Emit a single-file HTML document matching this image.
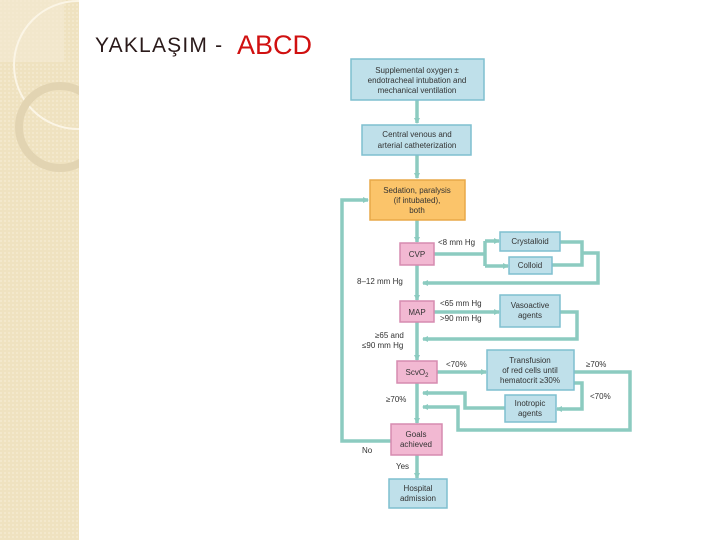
<!DOCTYPE html>
<html><head><meta charset="utf-8"><style>
body{margin:0;width:720px;height:540px;overflow:hidden;background:#fff;font-family:"Liberation Sans",sans-serif}
</style></head><body>
<svg width="720" height="540" viewBox="0 0 720 540" xmlns="http://www.w3.org/2000/svg" style="position:absolute;left:0;top:0">
<defs>
<pattern id="p" width="4" height="4" patternUnits="userSpaceOnUse"><rect width="4" height="4" fill="#efe2c0"/><rect width="2" height="2" fill="#f3e8cc"/></pattern>
<marker id="a" markerWidth="6" markerHeight="6" refX="5" refY="3" orient="auto" markerUnits="userSpaceOnUse"><path d="M0,0 L6,3 L0,6z" fill="#8ccbc0"/></marker>
<clipPath id="c"><rect x="0" y="0" width="79" height="540"/></clipPath>
</defs>
<rect x="0" y="0" width="79" height="540" fill="url(#p)"/>
<g clip-path="url(#c)">
<rect x="0" y="0" width="64" height="62" fill="#f4ead2" opacity="0.7"/>
<circle cx="78" cy="65" r="64" fill="none" stroke="#fbf5e6" stroke-width="2"/>
<circle cx="60" cy="127" r="41" fill="none" stroke="#e2d4b2" stroke-width="8"/>
</g>
<text x="95" y="52" font-size="21" fill="#2a1a1a" letter-spacing="1.2">YAKLAŞIM -</text>
<text x="237" y="54" font-size="27" fill="#d01010">ABCD</text>
<g stroke="#8ccbc0" stroke-width="3.5" fill="none">
<line x1="417" y1="100" x2="417" y2="123" marker-end="url(#a)"/>
<line x1="417" y1="155" x2="417" y2="178" marker-end="url(#a)"/>
<line x1="417" y1="220" x2="417" y2="242" marker-end="url(#a)"/>
<line x1="417" y1="265" x2="417" y2="300" marker-end="url(#a)"/>
<line x1="417" y1="322" x2="417" y2="360" marker-end="url(#a)"/>
<line x1="417" y1="383" x2="417" y2="423" marker-end="url(#a)"/>
<line x1="417" y1="455" x2="417" y2="478" marker-end="url(#a)"/>
<polyline points="391,441 342,441 342,200 368,200" marker-end="url(#a)"/>
<polyline points="434,254 485,254"/>
<polyline points="485,241 485,266"/>
<line x1="485" y1="241" x2="499" y2="241" marker-end="url(#a)"/>
<line x1="485" y1="266" x2="508" y2="266" marker-end="url(#a)"/>
<polyline points="560,242 582,242 582,265 552,265"/>
<polyline points="582,253 598,253 598,283 423,283" marker-end="url(#a)"/>
<line x1="434" y1="312" x2="499" y2="312" marker-end="url(#a)"/>
<polyline points="560,312 577,312 577,339 423,339" marker-end="url(#a)"/>
<line x1="437" y1="372" x2="486" y2="372" marker-end="url(#a)"/>
<polyline points="574,372 630,372 630,430 458,430 458,407 423,407" marker-end="url(#a)"/>
<polyline points="574,383 582,383 582,409 557,409" marker-end="url(#a)"/>
<polyline points="505,408 465,408 465,393 423,393" marker-end="url(#a)"/>
</g>
<g stroke="#7fbfcf" stroke-width="1.5" fill="#bfe0ea">
<rect x="351" y="59" width="133" height="41"/>
<rect x="362" y="125" width="109" height="30"/>
<rect x="500" y="232" width="60" height="19"/>
<rect x="509" y="257" width="43" height="17"/>
<rect x="500" y="295" width="60" height="32"/>
<rect x="487" y="350" width="87" height="40"/>
<rect x="505" y="395" width="51" height="27"/>
<rect x="389" y="479" width="58" height="29"/>
</g>
<rect x="370" y="180" width="95" height="40" fill="#fbc46a" stroke="#e8a848" stroke-width="1.5"/>
<g fill="#f2b8d2" stroke="#d68bb0" stroke-width="1.5">
<rect x="400" y="243" width="34" height="22"/>
<rect x="400" y="301" width="34" height="21"/>
<rect x="397" y="361" width="40" height="22"/>
<rect x="391" y="424" width="51" height="31"/>
</g>
<g font-size="8" fill="#333" text-anchor="middle">
<text x="417" y="73">Supplemental oxygen ±</text>
<text x="417" y="83">endotracheal intubation and</text>
<text x="417" y="93">mechanical ventilation</text>
<text x="417" y="137">Central venous and</text>
<text x="417" y="148">arterial catheterization</text>
<text x="417" y="193">Sedation, paralysis</text>
<text x="417" y="203">(if intubated),</text>
<text x="417" y="213">both</text>
<text x="417" y="257">CVP</text>
<text x="530" y="244">Crystalloid</text>
<text x="530" y="268">Colloid</text>
<text x="417" y="315">MAP</text>
<text x="530" y="308">Vasoactive</text>
<text x="530" y="318">agents</text>
<text x="417" y="375">ScvO<tspan font-size="6" dy="2">2</tspan></text>
<text x="530" y="363">Transfusion</text>
<text x="530" y="373">of red cells until</text>
<text x="530" y="383">hematocrit ≥30%</text>
<text x="530" y="406">Inotropic</text>
<text x="530" y="416">agents</text>
<text x="416" y="437">Goals</text>
<text x="416" y="447">achieved</text>
<text x="418" y="491">Hospital</text>
<text x="418" y="501">admission</text>
</g>
<g font-size="8" fill="#333">
<text x="438" y="245">&lt;8 mm Hg</text>
<text x="357" y="284">8–12 mm Hg</text>
<text x="440" y="306">&lt;65 mm Hg</text>
<text x="440" y="321">&gt;90 mm Hg</text>
<text x="375" y="338">≥65 and</text>
<text x="362" y="348">≤90 mm Hg</text>
<text x="446" y="367">&lt;70%</text>
<text x="586" y="367">≥70%</text>
<text x="590" y="399">&lt;70%</text>
<text x="386" y="402">≥70%</text>
<text x="362" y="453">No</text>
<text x="396" y="469">Yes</text>
</g>
</svg>
</body></html>
